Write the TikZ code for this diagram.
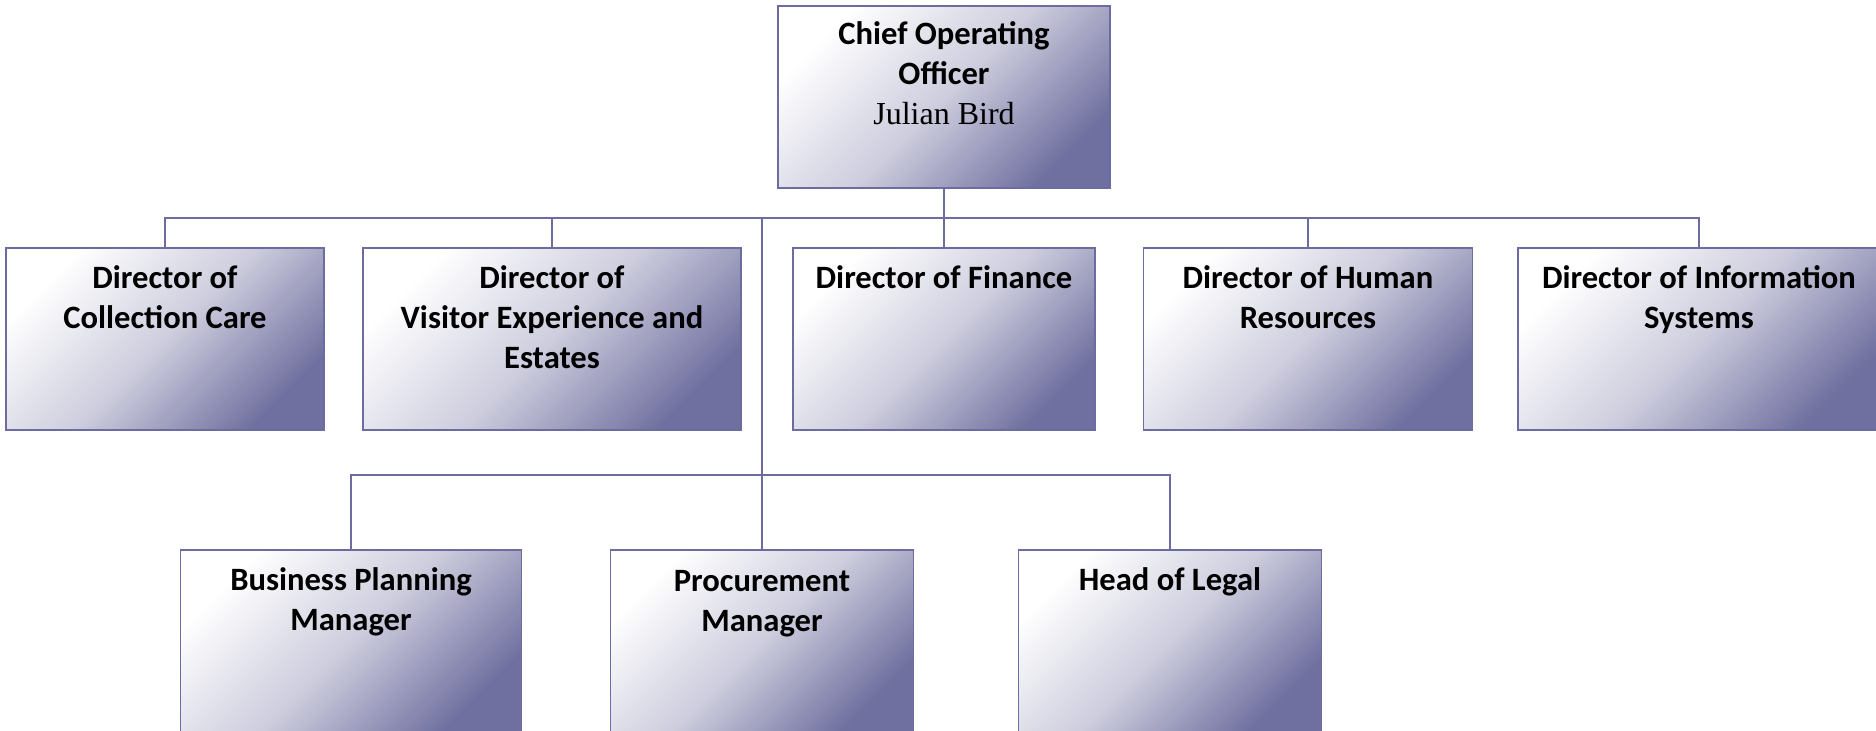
\documentclass[tikz,border=0pt]{standalone}
\usepackage{fontspec}
\setsansfont{Carlito}
\newfontfamily\namefont{Liberation Serif}
\usetikzlibrary{calc}
\definecolor{org-line}{RGB}{108,108,160}
\definecolor{org-dark}{RGB}{112,112,160}
\tikzset{
    org-box/.style 2 args={
        draw=org-line, line width=0.8pt, rectangle, inner sep=0pt,
        top color=white, bottom color=org-dark, middle color=org-dark!35,
        shading angle=45,
        minimum width={#1*0.5pt}, minimum height={#2*0.5pt}
    },
    org-title/.style={
        anchor=north, align=center, inner sep=0pt,
        font=\sffamily\bfseries\fontsize{16.3}{20}\selectfont
    },
    org-wire/.style={
        draw=org-line, line width=0.8pt
    },
}

\begin{document}
\begin{tikzpicture}[x=0.5pt, y=-0.5pt]

        % PAGE
        \path[use as bounding box, fill=white] (0,0) rectangle (1876,731);

        % CHIEF OPERATING OFFICER
        \node[org-box={332}{182}] (COO)  at (944,97) {};
        \node[org-title]          (COOT) at ($(COO.north) + (0,16)$)
            {Chief Operating\\Officer\\{\namefont\mdseries\fontsize{16}{19}\selectfont Julian Bird}};

        % DIRECTORS
        \node[org-box={318}{182}] (DCC) at (165,339)  {};
        \node[org-box={378}{182}] (DVE) at (552,339)  {};
        \node[org-box={302}{182}] (DFI) at (944,339)  {};
        \node[org-box={329}{182}] (DHR) at (1308,339) {};
        \node[org-box={362}{182}] (DIS) at (1699,339) {};
        \node[org-title] (DCCT) at ($(DCC.north) + (0,18)$) {Director of\\Collection Care};
        \node[org-title] (DVET) at ($(DVE.north) + (0,18)$) {Director of\\Visitor Experience and\\Estates};
        \node[org-title] (DFIT) at ($(DFI.north) + (0,18)$) {Director of Finance};
        \node[org-title] (DHRT) at ($(DHR.north) + (0,18)$) {Director of Human\\Resources};
        \node[org-title] (DIST) at ($(DIS.north) + (0,18)$) {Director of Information\\Systems};

        % MANAGERS
        \node[org-box={341}{182}] (BPM) at (351,641)  {};
        \node[org-box={303}{182}] (PRM) at (762,641)  {};
        \node[org-box={303}{182}] (HOL) at (1170,641) {};
        \node[org-title] (BPMT) at ($(BPM.north) + (0,18)$) {Business Planning\\Manager};
        \node[org-title] (PRMT) at ($(PRM.north) + (0,21)$) {Procurement\\Manager};
        \node[org-title] (HOLT) at ($(HOL.north) + (0,18)$) {Head of Legal};

        % BUS POINTS
        \coordinate (BUS1) at (944,218);
        \coordinate (BUS2) at (762,475);

        % CONNECTIONS
        \draw[org-wire] (COO.south) -- (BUS1);
        \draw[org-wire] (BUS1) -| (DCC.north);
        \draw[org-wire] (BUS1) -| (DVE.north);
        \draw[org-wire] (BUS1) -- (DFI.north);
        \draw[org-wire] (BUS1) -| (DHR.north);
        \draw[org-wire] (BUS1) -| (DIS.north);
        \draw[org-wire] (BUS1) -| (BUS2);
        \draw[org-wire] (BUS2) -| (BPM.north);
        \draw[org-wire] (BUS2) -- (PRM.north);
        \draw[org-wire] (BUS2) -| (HOL.north);

\end{tikzpicture}
\end{document}
